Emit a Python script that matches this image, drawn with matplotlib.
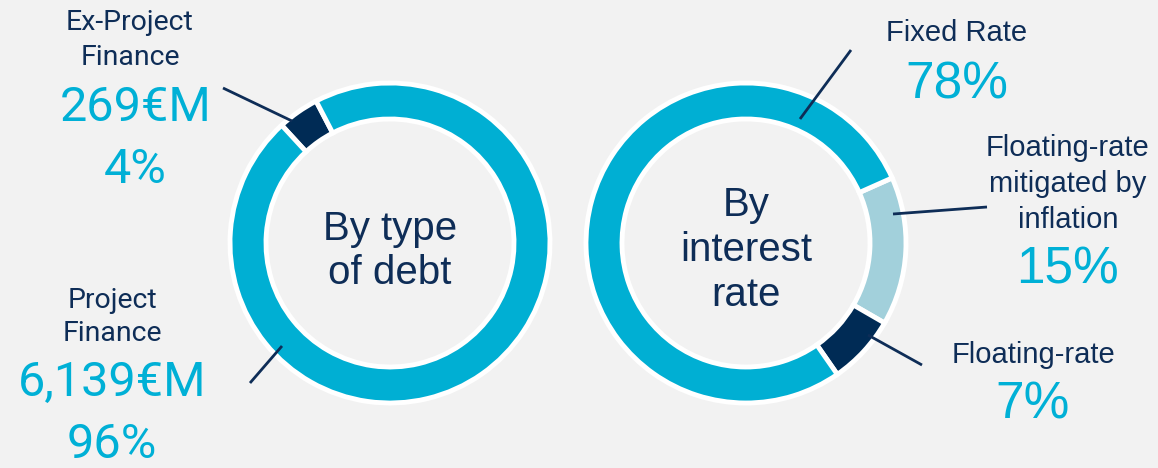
# Debt breakdown: two donut charts, by type of debt and by interest rate
import matplotlib.pyplot as plt

# by type of debt (EUR M)
debt_types = ['Ex-Project Finance', 'Project Finance']
debt_values = [269, 6139]
debt_pct = ['4%', '96%']

# by interest rate (%), clockwise from the right
rate_types = ['Floating-rate mitigated by inflation', 'Floating-rate', 'Fixed Rate']
rate_values = [15, 7, 78]

cyan = '#00AFD3'
navy = '#002B55'
light = '#A2D0DB'
bg = '#F2F2F2'
txt = '#0E2D57'
pct_col = '#00B0D6'

H = 468  # figure height in px, text/pie placed in px from top
def y(p):
    return H - p

fig = plt.figure(figsize=(11.58, 4.68), dpi=100, facecolor=bg)
ax = fig.add_axes([0, 0, 1, 1])
ax.set_facecolor(bg)

wp = dict(width=36, edgecolor='white', linewidth=3.5)
ax.pie(debt_values, colors=[navy, cyan], startangle=117.5, counterclock=True,
       center=(390, y(243)), radius=160, wedgeprops=wp)
ax.pie(rate_values, colors=[light, navy, cyan], startangle=24, counterclock=False,
       center=(746, y(243)), radius=160, wedgeprops=wp)

ax.set_xlim(0, 1158)
ax.set_ylim(0, H)
ax.set_aspect('equal')
ax.axis('off')

# centre titles
ax.text(390, y(251), 'By type\nof debt', ha='center', va='center', fontsize=29,
        color=txt, family='Liberation Sans', linespacing=1.22)
ax.text(746, y(250), 'By\ninterest\nrate', ha='center', va='center', fontsize=29,
        color=txt, family='Liberation Sans', linespacing=1.25)

# left labels
lf = dict(ha='center', va='center', color=txt, family='Roboto', fontsize=20.5)
nf = dict(ha='center', va='center', color=pct_col, family='Roboto', fontsize=35)
ax.text(130, y(40), 'Ex-Project\nFinance', linespacing=1.35, **lf)
ax.text(136, y(108), f'{debt_values[0]:,}€M', **nf)
ax.text(135, y(170), debt_pct[0], **nf)
ax.text(112, y(317), 'Project\nFinance', linespacing=1.3, **lf)
ax.text(112, y(383), f'{debt_values[1]:,}€M', **nf)
ax.text(112, y(445), debt_pct[1], **nf)

# right labels
rf = dict(ha='center', va='center', color=txt, family='Liberation Sans', fontsize=21)
pf = dict(ha='center', va='center', color=pct_col, family='Liberation Sans', fontsize=37)
ax.text(957, y(33), rate_types[2], **rf)
ax.text(957, y(85), f'{rate_values[2]}%', **pf)
ax.text(1068, y(184), 'Floating-rate\nmitigated by\ninflation', linespacing=1.35, **rf)
ax.text(1068, y(270), f'{rate_values[0]}%', **pf)
ax.text(1033, y(355), rate_types[1], **rf)
ax.text(1033, y(405), f'{rate_values[1]}%', **pf)

# leader lines
for (x0, y0), (x1, y1) in [((223, 88), (292, 121)), ((250, 383), (282, 346)),
                           ((851, 50), (800, 119)), ((987, 207), (893, 214)),
                           ((868, 335), (922, 365))]:
    ax.plot([x0, x1], [y(y0), y(y1)], color=txt, lw=2, solid_capstyle='butt')

plt.savefig('out.png', dpi=100, facecolor=bg)
